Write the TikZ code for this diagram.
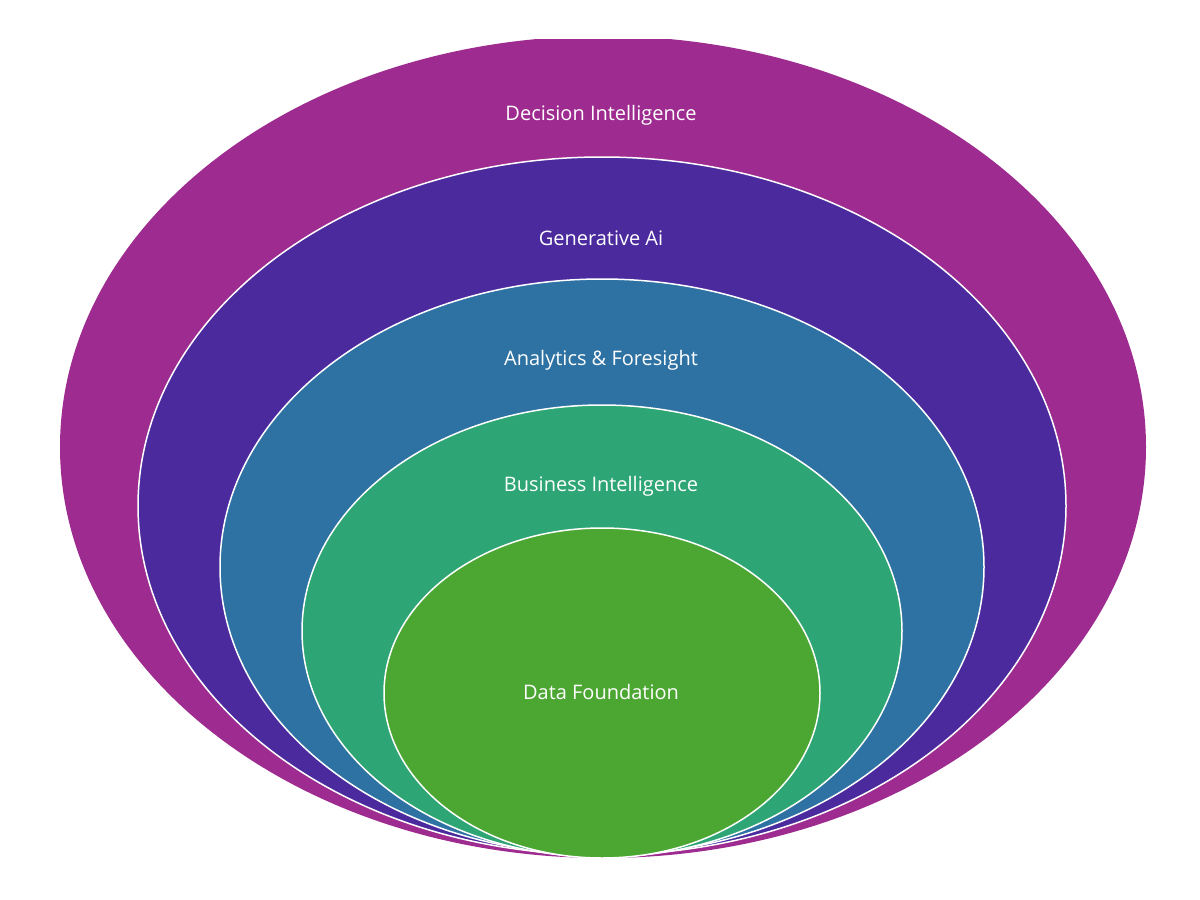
\documentclass[tikz,border=0pt]{standalone}
\usepackage{fontspec}
\setmainfont{Open Sans}
\begin{document}
\begin{tikzpicture}[x=1pt,y=-1pt,
  ring/.style={draw=white,line width=1.5pt},
  lab/.style={text=white,font=\fontsize{20}{24}\selectfont}]
\useasboundingbox (0,0) rectangle (1200,900);
\definecolor{c1}{HTML}{9E2B8F}
\definecolor{c2}{HTML}{4B2A9E}
\definecolor{c3}{HTML}{2D72A3}
\definecolor{c4}{HTML}{2EA574}
\definecolor{c5}{HTML}{4CA632}
\begin{scope}
\clip (0,39) rectangle (1200,900);
\fill[c1] (603,447) ellipse [x radius=543, y radius=411];
\end{scope}
\fill[c2,ring] (602,506) ellipse [x radius=464, y radius=349];
\fill[c3,ring] (602,567) ellipse [x radius=382, y radius=288];
\fill[c4,ring] (602,631) ellipse [x radius=300, y radius=226];
\fill[c5,ring] (602,693) ellipse [x radius=218, y radius=165];
\node[lab] (l1) at (601,115) {Decision Intelligence};
\node[lab] (l2) at (601,238) {Generative Ai};
\node[lab] (l3) at (601,360) {Analytics \& Foresight};
\node[lab] (l4) at (601,486) {Business Intelligence};
\node[lab] (l5) at (601,692) {Data Foundation};
\end{tikzpicture}
\end{document}
